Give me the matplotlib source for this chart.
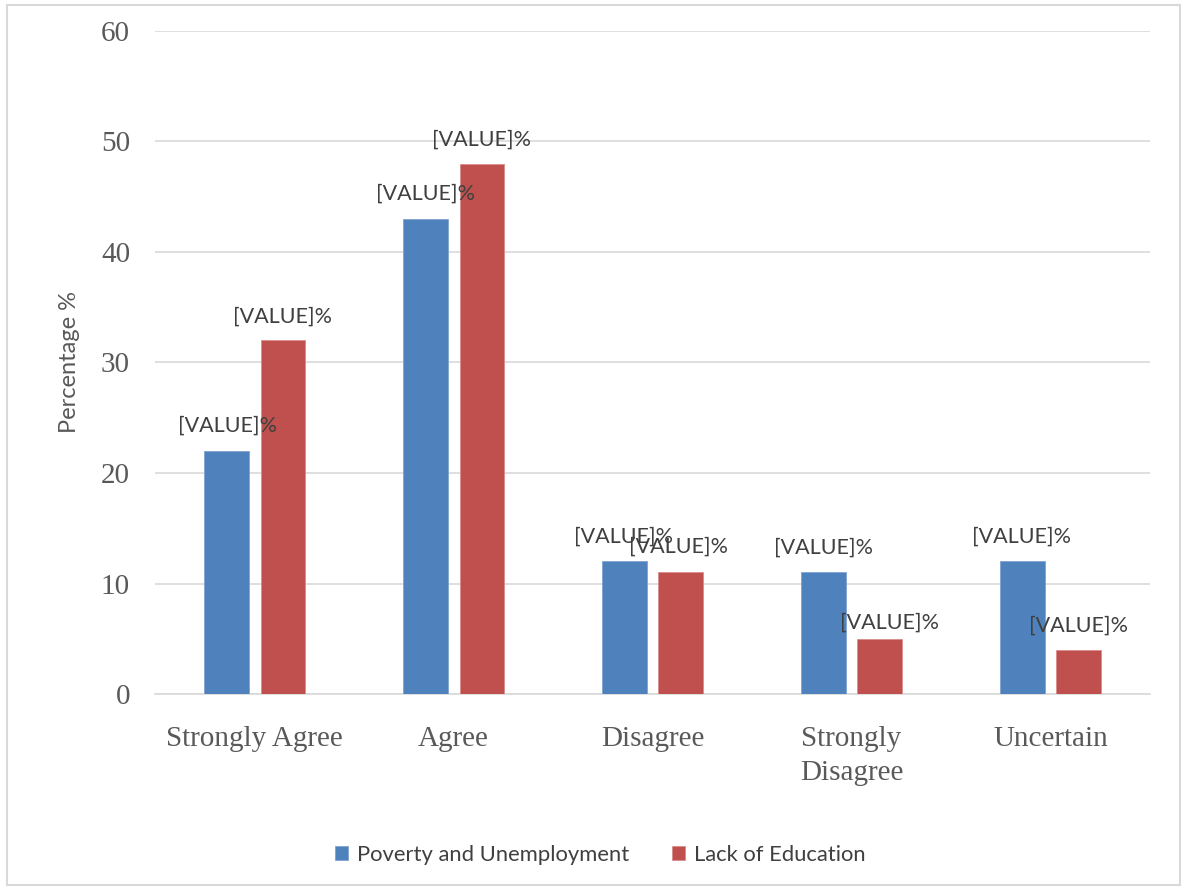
import matplotlib
import matplotlib.pyplot as plt
import numpy as np
from matplotlib.patches import Rectangle
matplotlib.use('Agg')

categories = ['Strongly Agree', 'Agree', 'Disagree', 'Strongly\nDisagree', 'Uncertain']
poverty = [22, 43, 12, 11, 12]
education = [32, 48, 11, 5, 4]
series_names = ['Poverty and Unemployment', 'Lack of Education']
label_text = '[VALUE]%'

blue = '#4F81BD'
red = '#C0504D'
grid_col = '#D9D9D9'
text_col = '#595959'

fig = plt.figure(figsize=(11.89, 8.90), dpi=100)
ax = fig.add_axes([0.1304, 0.2202, 0.8368, 0.745])

x = np.arange(len(categories))
w = 0.226
off = 0.143
b1 = ax.bar(x - off, poverty, w, color=blue, edgecolor='#7FA3D0', linewidth=0.6, zorder=3)
b2 = ax.bar(x + off, education, w, color=red, edgecolor='#D98C8A', linewidth=0.6, zorder=3)

# label offsets in pixels (dx, dy) from bar top centre
offs1 = [(1, 25), (0, 25), (-1, 25), (0, 25), (-1, 25)]
offs2 = [(0, 24), (0, 24), (-2, 26), (10, 16), (0, 24)]
for bars, offs in ((b1, offs1), (b2, offs2)):
    for rect, (dx, dy) in zip(bars, offs):
        ax.annotate(label_text, (rect.get_x() + rect.get_width() / 2, rect.get_height()),
                    xytext=(dx, dy), textcoords='offset pixels', ha='center', va='center',
                    fontsize=15.5, family='Lato', color='#404040', zorder=4)

ax.set_xlim(-0.5, len(categories) - 0.5)
ax.set_ylim(0, 60)
ax.set_yticks(range(0, 61, 10))
ax.set_xticks(x)
ax.set_xticklabels(categories, family='Liberation Serif', fontsize=21, color=text_col,
                   linespacing=1.4)
for t in ax.get_yticklabels():
    t.set_family('Liberation Serif')
    t.set_fontsize(21)
    t.set_color(text_col)
ax.tick_params(axis='both', length=0)
ax.tick_params(axis='y', pad=18)
ax.tick_params(axis='x', pad=23)
ax.grid(axis='y', color=grid_col, linewidth=1.2, zorder=0)
for s in ['top', 'right', 'left']:
    ax.spines[s].set_visible(False)
ax.spines['bottom'].set_color(grid_col)
ax.spines['bottom'].set_linewidth(1.2)

ax.set_ylabel('Percentage %', family='Lato', fontsize=17, color=text_col, labelpad=15)

fig.legend([b1, b2], series_names, loc='center', bbox_to_anchor=(600 / 1189, 1 - 855 / 890),
           ncol=2, frameon=False, prop={'family': 'Lato', 'size': 15.8},
           labelcolor='#404040', handlelength=0.6, handleheight=0.6, handletextpad=0.4,
           columnspacing=1.95)

fig.patches.append(Rectangle((7 / 1189, 5 / 890), 1 - 16 / 1189, 1 - 10 / 890,
                             transform=fig.transFigure, fill=False, edgecolor=grid_col,
                             linewidth=1.5))

plt.savefig('out.png', dpi=100)
plt.close()
